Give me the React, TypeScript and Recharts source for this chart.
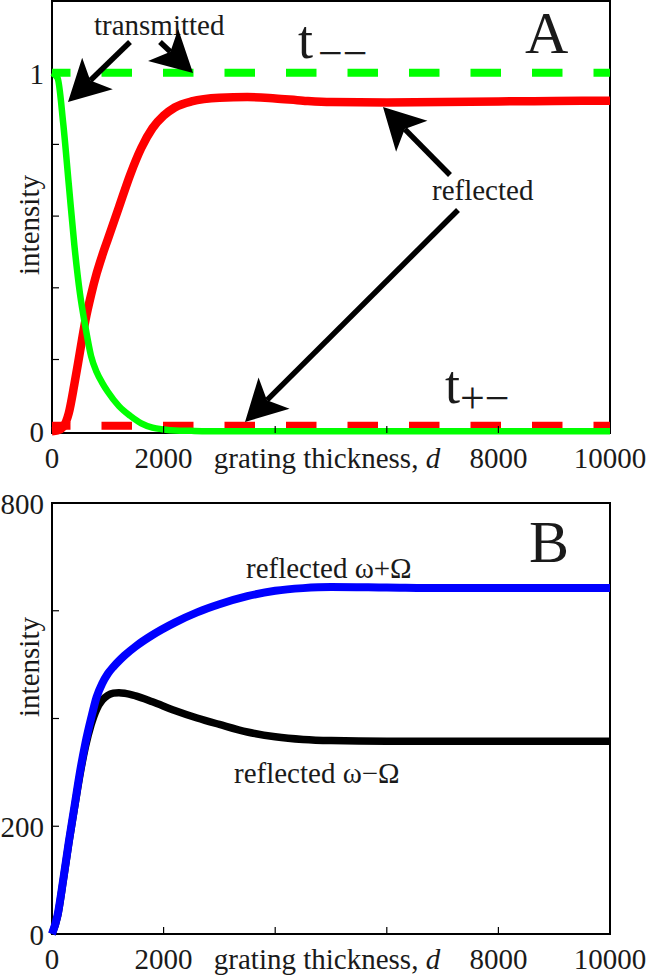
import { LineChart, Line, XAxis, YAxis, ReferenceLine, ReferenceArea } from 'recharts'

const SERIF = '"Liberation Serif", "Times New Roman", serif'
const INK = '#1a1a1a'

// panel A: transmitted / reflected intensity vs grating thickness
const thicknessA = [0, 100, 200, 300, 400, 500, 600, 700, 800, 900, 1000, 1200, 1400, 1600, 1800, 2000, 2200, 2500, 3000, 3500, 4000, 4500, 5000, 6000, 7000, 8000, 9000, 10000]
const transmitted = [1, 0.985, 0.86, 0.69, 0.52, 0.385, 0.29, 0.21, 0.165, 0.135, 0.11, 0.07, 0.043, 0.022, 0.01, 0.005, 0.002, 0.001, 0, 0, 0, 0, 0, 0, 0, 0, 0, 0]
const reflected = [0, 0.002, 0.012, 0.05, 0.13, 0.22, 0.31, 0.38, 0.44, 0.49, 0.535, 0.625, 0.715, 0.79, 0.845, 0.88, 0.903, 0.92, 0.93, 0.932, 0.928, 0.922, 0.918, 0.917, 0.918, 0.92, 0.921, 0.922]
const tMinusMinus = 1
const tPlusMinus = 0.015

// panel B: reflected sidebands
const thicknessB = [0, 100, 200, 300, 400, 500, 600, 700, 800, 900, 1000, 1100, 1200, 1300, 1500, 1800, 2200, 2600, 3000, 3500, 4000, 4500, 5000, 6000, 7000, 8000, 9000, 10000]
const reflectedPlus = [0, 35, 100, 170, 235, 300, 355, 400, 440, 465, 483, 496, 507, 517, 534, 555, 578, 597, 612, 627, 637, 642, 644, 643, 642, 642, 642, 642]
const reflectedMinus = [0, 33, 98, 168, 232, 295, 348, 388, 417, 434, 443, 447, 448, 447, 442, 431, 415, 401, 389, 375, 366, 361, 359, 358, 358, 358, 358, 358]

const xTicks = [0, 2000, 4000, 6000, 8000, 10000]
const xTickLabels = ['0', '2000', '', '', '8000', '10000']
const yTicksA = [0, 0.2, 0.4, 0.6, 0.8, 1]
const yTickLabelsA = ['0', '', '', '', '', '1']
const yTicksB = [0, 200, 400, 600, 800]
const yTickLabelsB = ['0', '200', '', '', '800']

const dataA = thicknessA.map((d, i) => ({ d, transmitted: transmitted[i], reflected: reflected[i] }))
const dataB = thicknessB.map((d, i) => ({ d, plus: reflectedPlus[i], minus: reflectedMinus[i] }))

const makeXTick = (ticks: number[], labels: string[]) => (props: any) => {
  const { x, y, payload } = props
  const i = ticks.indexOf(payload.value)
  const edge = i === 0 || i === ticks.length - 1
  return (
    <g>
      {!edge && <line x1={x} y1={y} x2={x} y2={y - 7} stroke="#000" strokeWidth={1.2} />}
      {labels[i] && (
        <text x={x} y={y + 35} textAnchor="middle" fontFamily={SERIF} fontSize={29} fill={INK}>
          {labels[i]}
        </text>
      )}
    </g>
  )
}

const makeYTick = (ticks: number[], labels: string[]) => (props: any) => {
  const { x, y, payload } = props
  const i = ticks.indexOf(payload.value)
  const edge = i === 0 || i === ticks.length - 1
  return (
    <g>
      {!edge && <line x1={x} y1={y} x2={x + 7} y2={y} stroke="#000" strokeWidth={1.2} />}
      {labels[i] && (
        <text x={x - 8} y={y + 11} textAnchor="end" fontFamily={SERIF} fontSize={29} fill={INK}>
          {labels[i]}
        </text>
      )}
    </g>
  )
}

const xTitle = (props: any) => {
  const { viewBox } = props
  const cx = viewBox.x + viewBox.width / 2
  return (
    <text x={cx - 4} y={viewBox.y + 35} textAnchor="middle" fontFamily={SERIF} fontSize={29} fill={INK}>
      grating thickness, <tspan fontStyle="italic">d</tspan>
    </text>
  )
}

const yTitle = (cy: number) => () => (
  <text
    transform={`translate(29,${cy}) rotate(-90)`}
    dy="0.35em"
    textAnchor="middle"
    fontFamily={SERIF}
    fontSize={29}
    fill={INK}
  >
    intensity
  </text>
)

const Arrow = ({ from, to }: { from: [number, number]; to: [number, number] }) => {
  const [x1, y1] = from
  const [x2, y2] = to
  const len = Math.hypot(x2 - x1, y2 - y1)
  const ux = (x2 - x1) / len
  const uy = (y2 - y1) / len
  const px = -uy
  const py = ux
  const L = 41
  const W = 22
  const N = 31
  const bx = x2 - ux * L
  const by = y2 - uy * L
  const nx = x2 - ux * N
  const ny = y2 - uy * N
  const pts = [
    [x2, y2],
    [bx + px * W, by + py * W],
    [nx, ny],
    [bx - px * W, by - py * W],
  ]
  return (
    <g>
      <line x1={x1} y1={y1} x2={nx} y2={ny} stroke="#000" strokeWidth={5.5} />
      <polygon points={pts.map((p) => p.join(',')).join(' ')} fill="#000" />
    </g>
  )
}

const textStyle = { fontFamily: SERIF, fill: INK }

export default function App() {
  return (
    <div style={{ position: 'absolute', left: 0, top: 0, width: 647, height: 976, background: '#fff' }}>
      <div style={{ position: 'absolute', left: 0, top: 0 }}>
        <LineChart width={647} height={478} data={dataA} margin={{ top: 1, right: 37, bottom: 8, left: 0 }}>
          <XAxis
            dataKey="d"
            type="number"
            domain={[0, 10000]}
            ticks={xTicks}
            interval={0}
            axisLine={false}
            tickLine={false}
            tickSize={0}
            tickMargin={0}
            height={37}
            tick={makeXTick(xTicks, xTickLabels)}
            label={{ content: xTitle }}
          />
          <YAxis
            type="number"
            domain={[-0.005, 1.2]}
            ticks={yTicksA}
            interval={0}
            axisLine={false}
            tickLine={false}
            tickSize={0}
            tickMargin={0}
            width={52}
            tick={makeYTick(yTicksA, yTickLabelsA)}
            label={{ content: yTitle(225) }}
          />
          <ReferenceArea x1={0} x2={10000} y1={-0.005} y2={1.2} fill="none" stroke="#000" strokeWidth={2} />
          <ReferenceLine y={tMinusMinus} stroke="#00ff00" strokeWidth={8} strokeDasharray="30.5 31" strokeDashoffset={12} />
          <ReferenceLine y={tPlusMinus} stroke="#ff0000" strokeWidth={8} strokeDasharray="30.5 31" strokeDashoffset={12} />
          <Line type="monotone" dataKey="reflected" stroke="#ff0000" strokeWidth={8.5} dot={false} isAnimationActive={false} />
          <Line type="monotone" dataKey="transmitted" stroke="#00ff00" strokeWidth={6.5} dot={false} isAnimationActive={false} />
        </LineChart>
      </div>
      <div style={{ position: 'absolute', left: 0, top: 470 }}>
        <LineChart width={647} height={506} data={dataB} margin={{ top: 33, right: 37, bottom: 0, left: 0 }}>
          <XAxis
            dataKey="d"
            type="number"
            domain={[0, 10000]}
            ticks={xTicks}
            interval={0}
            axisLine={false}
            tickLine={false}
            tickSize={0}
            tickMargin={0}
            height={42}
            tick={makeXTick(xTicks, xTickLabels)}
            label={{ content: xTitle }}
          />
          <YAxis
            type="number"
            domain={[0, 800]}
            ticks={yTicksB}
            interval={0}
            axisLine={false}
            tickLine={false}
            tickSize={0}
            tickMargin={0}
            width={52}
            tick={makeYTick(yTicksB, yTickLabelsB)}
            label={{ content: yTitle(197) }}
          />
          <ReferenceArea x1={0} x2={10000} y1={0} y2={800} fill="none" stroke="#000" strokeWidth={2} />
          <Line type="monotone" dataKey="minus" stroke="#000000" strokeWidth={7.5} dot={false} isAnimationActive={false} />
          <Line type="monotone" dataKey="plus" stroke="#0000ff" strokeWidth={8} dot={false} isAnimationActive={false} />
        </LineChart>
      </div>
      <svg width={647} height={976} style={{ position: 'absolute', left: 0, top: 0, pointerEvents: 'none' }}>
        <text x={94} y={35} fontSize={29} {...textStyle}>transmitted</text>
        <Arrow from={[130, 42]} to={[68, 102]} />
        <Arrow from={[160, 42]} to={[193, 73]} />
        <text x={298} y={58} fontSize={54} {...textStyle}>
          t<tspan x={318} dy={10} fontSize={44}>−−</tspan>
        </text>
        <text x={525} y={53} fontSize={60} {...textStyle}>A</text>
        <text x={432} y={200} fontSize={29} {...textStyle}>reflected</text>
        <Arrow from={[450, 175]} to={[383, 107]} />
        <Arrow from={[458, 210]} to={[245, 422]} />
        <text x={445} y={403} fontSize={54} {...textStyle}>
          t<tspan x={460} dy={10} fontSize={44}>+−</tspan>
        </text>
        <text x={529} y={562} fontSize={60} {...textStyle}>B</text>
        <text x={246} y={578} fontSize={29} {...textStyle}>reflected ω+Ω</text>
        <text x={234} y={783} fontSize={29} {...textStyle}>reflected ω−Ω</text>
      </svg>
    </div>
  )
}
